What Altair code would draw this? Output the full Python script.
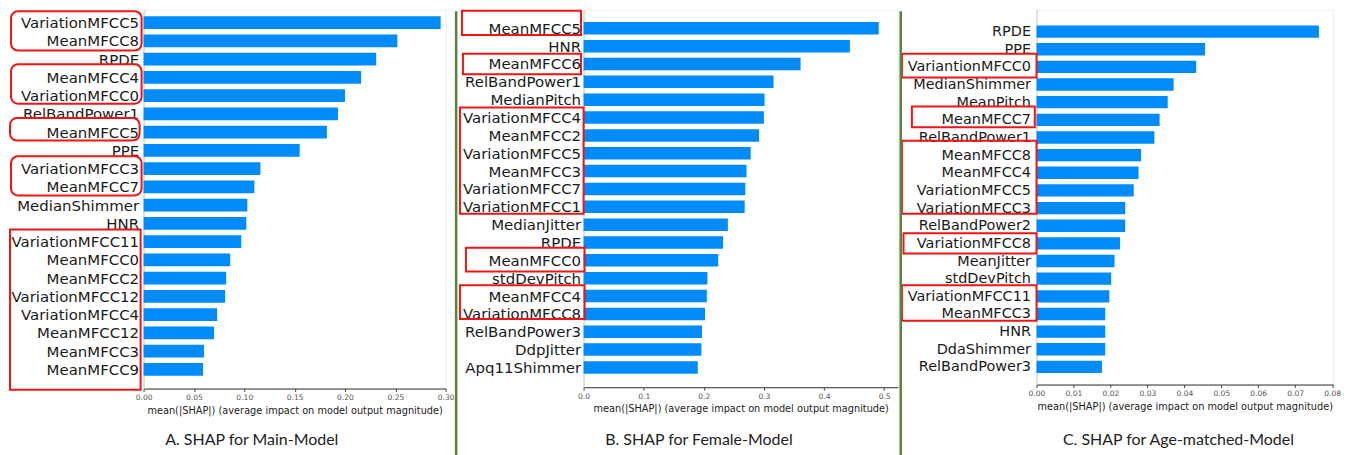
import json
import altair as alt
import pandas as pd

# ---------------- data ----------------
featA = ["VariationMFCC5", "MeanMFCC8", "RPDE", "MeanMFCC4", "VariationMFCC0",
         "RelBandPower1", "MeanMFCC5", "PPE", "VariationMFCC3", "MeanMFCC7",
         "MedianShimmer", "HNR", "VariationMFCC11", "MeanMFCC0", "MeanMFCC2",
         "VariationMFCC12", "VariationMFCC4", "MeanMFCC12", "MeanMFCC3", "MeanMFCC9"]
valA = [0.295, 0.252, 0.231, 0.216, 0.200, 0.193, 0.182, 0.155, 0.116, 0.110,
        0.103, 0.102, 0.097, 0.086, 0.082, 0.081, 0.073, 0.070, 0.060, 0.059]

featB = ["MeanMFCC5", "HNR", "MeanMFCC6", "RelBandPower1", "MedianPitch",
         "VariationMFCC4", "MeanMFCC2", "VariationMFCC5", "MeanMFCC3", "VariationMFCC7",
         "VariationMFCC1", "MedianJitter", "RPDE", "MeanMFCC0", "stdDevPitch",
         "MeanMFCC4", "VariationMFCC8", "RelBandPower3", "DdpJitter", "Apq11Shimmer"]
valB = [0.491, 0.443, 0.361, 0.316, 0.301, 0.300, 0.292, 0.278, 0.271, 0.269,
        0.268, 0.240, 0.232, 0.224, 0.206, 0.205, 0.202, 0.197, 0.196, 0.190]

featC = ["RPDE", "PPE", "VariantionMFCC0", "MedianShimmer", "MeanPitch",
         "MeanMFCC7", "RelBandPower1", "MeanMFCC8", "MeanMFCC4", "VariationMFCC5",
         "VariationMFCC3", "RelBandPower2", "VariationMFCC8", "MeanJitter", "stdDevPitch",
         "VariationMFCC11", "MeanMFCC3", "HNR", "DdaShimmer", "RelBandPower3"]
valC = [0.0764, 0.0456, 0.0432, 0.0371, 0.0355, 0.0333, 0.0319, 0.0283, 0.0276, 0.0263,
        0.0240, 0.0240, 0.0226, 0.0211, 0.0202, 0.0197, 0.0186, 0.0186, 0.0186, 0.0177]

ticksA = [0.0, 0.05, 0.10, 0.15, 0.20, 0.25, 0.30]
ticksB = [0.0, 0.1, 0.2, 0.3, 0.4, 0.5]
ticksC = [0.0, 0.01, 0.02, 0.03, 0.04, 0.05, 0.06, 0.07, 0.08]

captions = ["A. SHAP for Main-Model", "B. SHAP for Female-Model", "C. SHAP for Age-matched-Model"]
axis_title = "mean(|SHAP|) (average impact on model output magnitude)"

# highlight boxes (annotation): row-range top, row-range bottom, left px, right px, rounded
boxesA = [(-0.63, 1.53, -133, -2, True), (2.28, 4.44, -133, -2, True),
          (5.23, 6.46, -134, -4, True), (7.32, 9.47, -133, -2, True),
          (11.33, 20.11, -134, -3, False)]
boxesB = [(-0.98, 0.37, -122, -2.6, False), (1.43, 2.57, -121, -2.6, False),
          (4.43, 10.39, -124, 0, False), (12.29, 13.63, -118, 1, False),
          (14.39, 16.29, -124, 1, False)]
boxesC = [(1.26, 2.60, -135, 0, False), (4.24, 5.42, -125, -1.7, False),
          (6.18, 10.32, -135, 0, False), (11.43, 12.58, -133.4, 0, False),
          (14.37, 16.38, -135, 0, False)]

BLUE = "#008bfb"
RED = "#f01414"
GREEN = "#55843a"
LABEL_FONT = "DejaVu Sans"


def panel(feats, vals, width, height, xmax, ydom, ticks, fmt, lab_size, lab_pad,
          caption, cap_x, boxes, sep_x=None):
    n = len(feats)
    df = pd.DataFrame({"feature": feats, "value": vals, "row": list(range(n))})
    ppu = width / xmax
    xs = alt.Scale(domain=[0, xmax], nice=False, zero=False)
    ys = alt.Scale(domain=ydom, nice=False, zero=False, reverse=True)
    label_expr = json.dumps(feats) + "[round(datum.value)]"
    xaxis = alt.Axis(
        values=ticks, format=fmt, title=axis_title, grid=False,
        labelFont=LABEL_FONT, labelFontSize=7.6, labelColor="#555555",
        labelFlush=False, labelOverlap=False, labelPadding=2,
        tickSize=3, tickColor="#444444", domainColor="#333333",
        titleFont=LABEL_FONT, titleFontSize=9.8, titleFontWeight="normal",
        titleColor="#222222", titlePadding=4)
    yaxis = alt.Axis(
        values=list(range(n)), labelExpr=label_expr, title=None, grid=False,
        ticks=False, domainColor="#cccccc", labelFont=LABEL_FONT,
        labelFontSize=lab_size, labelColor="#1a1a1a", labelPadding=lab_pad,
        labelOverlap=False, labelLimit=300)

    bars = alt.Chart(df).transform_calculate(
        lo="datum.row - 0.35", hi="datum.row + 0.35", zero="0"
    ).mark_rect(color=BLUE).encode(
        x=alt.X("zero:Q", scale=xs, axis=xaxis, title=axis_title),
        x2="value:Q",
        y=alt.Y("lo:Q", scale=ys, axis=yaxis, title=None),
        y2="hi:Q",
    )
    layers = [bars]

    bdf = pd.DataFrame(boxes, columns=["y0", "y1", "xl", "xr", "rounded"])
    bdf["xl"] = bdf["xl"] / ppu
    bdf["xr"] = bdf["xr"] / ppu
    for rounded, sub in bdf.groupby("rounded"):
        mk = dict(fillOpacity=0, stroke=RED, strokeWidth=2)
        if rounded:
            mk["cornerRadius"] = 7
        layers.append(alt.Chart(sub.drop(columns="rounded")).mark_rect(**mk).encode(
            x=alt.X("xl:Q", scale=xs, axis=xaxis, title=axis_title), x2="xr:Q",
            y=alt.Y("y0:Q", scale=ys, axis=yaxis, title=None), y2="y1:Q"))

    layers.append(alt.Chart(pd.DataFrame({"t": [caption]})).mark_text(
        font="Lato", fontSize=16, color="#222222", align="center", baseline="alphabetic"
    ).encode(text="t:N", x=alt.value(cap_x), y=alt.value(437)))

    if sep_x is not None:
        layers.append(alt.Chart(pd.DataFrame({"s": [0]})).mark_rule(
            color=GREEN, strokeWidth=2.5
        ).encode(x=alt.value(sep_x), y=alt.value(1.5), y2=alt.value(447)))

    return alt.layer(*layers).properties(width=width, height=height)


pA = panel(featA, valA, 303, 380, 0.30, [-0.71, 20.05], ticksA, ".2f", 15, 5,
           captions[0], 108.5, boxesA)
pB = panel(featB, valB, 315.1, 378.7, 0.5226, [-1.045, 20.11], ticksB, ".1f", 15, 3,
           captions[1], 115.7, boxesB, sep_x=-127.8)
pC = panel(featC, valC, 297.3, 376, 0.0802, [-1.243, 20.0], ticksC, ".2f", 14.5, 6,
           captions[2], 142.3, boxesC, sep_x=-136.2)

chart = alt.hconcat(pA, pB, pC, spacing=138.3, bounds="flush").properties(
    padding=0
).configure_view(stroke="#ececec")

chart.save("out.html", embed_options={"renderer": "svg", "actions": False})
